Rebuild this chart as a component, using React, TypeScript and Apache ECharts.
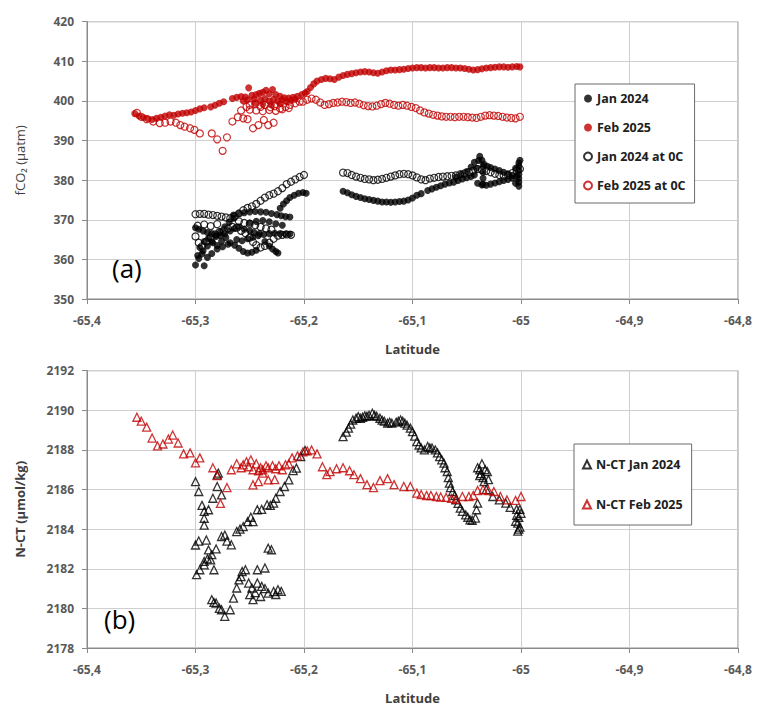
import React, { useEffect, useRef } from "react";
import * as echarts from "echarts";

// ---------- Top panel (a): fCO2 (µatm) vs latitude ----------
const jan2024: number[][] = [
  [-65.300, 358.6], [-65.292, 358.4], [-65.297, 360.2], [-65.294, 361.4], [-65.289, 360.5], [-65.285, 361.5],
  [-65.280, 362.6], [-65.275, 363.2], [-65.270, 363.8],
  [-65.300, 368.0], [-65.297, 367.6], [-65.293, 367.2], [-65.289, 366.8], [-65.285, 366.5], [-65.281, 366.2],
  [-65.277, 366.0], [-65.273, 366.5], [-65.268, 367.2], [-65.264, 367.8], [-65.260, 368.2], [-65.255, 367.6],
  [-65.250, 367.2], [-65.246, 366.8], [-65.241, 366.5], [-65.236, 364.5], [-65.232, 363.4], [-65.229, 362.6],
  [-65.226, 362.0], [-65.224, 361.6],
  [-65.265, 371.2], [-65.260, 371.6], [-65.255, 371.8], [-65.250, 372.0], [-65.245, 372.1], [-65.240, 372.0],
  [-65.235, 371.9], [-65.230, 371.6], [-65.225, 371.3], [-65.221, 371.0], [-65.217, 370.8], [-65.213, 370.7],
  [-65.298, 361.0], [-65.293, 362.2], [-65.289, 363.4], [-65.285, 364.5], [-65.281, 365.8], [-65.277, 367.0],
  [-65.273, 368.2], [-65.269, 369.4], [-65.265, 370.4],
  [-65.222, 372.9], [-65.219, 374.0], [-65.216, 374.8], [-65.213, 375.6], [-65.209, 376.2], [-65.205, 376.7],
  [-65.201, 376.9], [-65.198, 376.7],
  [-65.262, 365.0], [-65.257, 364.7], [-65.252, 365.2], [-65.247, 365.6], [-65.242, 366.0], [-65.237, 366.3],
  [-65.232, 366.5], [-65.227, 366.6], [-65.222, 366.5], [-65.217, 366.4], [-65.213, 366.4],
  [-65.250, 369.2], [-65.244, 369.6], [-65.238, 369.8], [-65.232, 369.5], [-65.226, 369.0], [-65.220, 368.6],
  [-65.296, 363.0], [-65.292, 364.5], [-65.288, 365.3], [-65.284, 364.2], [-65.280, 363.5], [-65.276, 364.6],
  [-65.272, 365.5], [-65.268, 364.2], [-65.264, 363.6], [-65.260, 362.8], [-65.256, 362.0], [-65.252, 361.6],
  [-65.248, 361.8], [-65.244, 362.3],
  [-65.164, 377.2], [-65.160, 376.8], [-65.156, 376.3], [-65.152, 375.9], [-65.148, 375.6], [-65.144, 375.3],
  [-65.140, 375.1], [-65.136, 374.9], [-65.132, 374.7], [-65.128, 374.5], [-65.124, 374.5], [-65.120, 374.4],
  [-65.116, 374.5], [-65.112, 374.6], [-65.108, 374.7], [-65.104, 375.0], [-65.100, 375.5], [-65.096, 376.2],
  [-65.092, 376.6],
  [-65.086, 377.4], [-65.082, 377.8], [-65.078, 378.2], [-65.074, 378.6], [-65.070, 379.0], [-65.066, 379.3],
  [-65.062, 379.5], [-65.058, 379.9], [-65.054, 380.3], [-65.050, 380.6], [-65.046, 380.9], [-65.043, 381.3],
  [-65.041, 383.0], [-65.039, 385.0], [-65.038, 386.0], [-65.036, 385.0], [-65.034, 384.0], [-65.031, 383.5],
  [-65.028, 383.2], [-65.024, 382.8], [-65.020, 382.4], [-65.016, 382.0], [-65.012, 381.6], [-65.008, 381.2],
  [-65.004, 381.0],
  [-65.040, 379.2], [-65.036, 378.8], [-65.032, 378.7], [-65.028, 379.0], [-65.024, 379.3], [-65.020, 379.6],
  [-65.016, 379.9], [-65.012, 380.2], [-65.008, 380.5],
  [-65.060, 380.8], [-65.055, 381.5], [-65.050, 382.2], [-65.046, 383.3], [-65.043, 384.5],
  [-65.002, 378.5], [-65.002, 379.5], [-65.002, 380.5], [-65.002, 381.5], [-65.002, 382.5], [-65.002, 383.5],
  [-65.002, 384.3], [-65.005, 383.0], [-65.005, 379.2], [-65.001, 385.0],
  [-65.035, 379.0], [-65.035, 380.5], [-65.035, 382.0], [-65.035, 383.5],
];

const feb2025: number[][] = [
  [-65.356, 396.8], [-65.352, 396.2], [-65.348, 395.8], [-65.344, 395.5], [-65.340, 395.3], [-65.336, 395.6],
  [-65.332, 395.9], [-65.328, 396.2], [-65.324, 396.5], [-65.320, 396.4], [-65.316, 396.7], [-65.312, 396.9],
  [-65.308, 397.0], [-65.304, 397.2], [-65.300, 397.6], [-65.296, 398.0], [-65.292, 398.3],
  [-65.286, 398.5], [-65.282, 398.9], [-65.278, 399.4], [-65.274, 399.8],
  [-65.266, 400.6], [-65.262, 400.9], [-65.258, 401.1], [-65.254, 401.0], [-65.251, 403.3], [-65.248, 401.4],
  [-65.244, 401.6], [-65.241, 401.9], [-65.238, 402.2], [-65.235, 402.7], [-65.232, 401.8], [-65.229, 402.9],
  [-65.226, 401.6], [-65.222, 401.2], [-65.218, 400.8], [-65.214, 400.7], [-65.210, 400.9], [-65.206, 401.2],
  [-65.202, 401.6], [-65.199, 402.0],
  [-65.256, 400.0], [-65.252, 400.3], [-65.246, 400.5], [-65.240, 400.2], [-65.236, 400.6], [-65.232, 400.0],
  [-65.228, 400.4], [-65.224, 399.9], [-65.220, 400.3], [-65.216, 399.8], [-65.212, 400.1], [-65.208, 400.4],
  [-65.245, 399.5], [-65.238, 399.2], [-65.230, 399.0], [-65.222, 399.3],
  [-65.197, 402.4], [-65.194, 403.4], [-65.191, 404.3], [-65.188, 405.0], [-65.184, 405.4], [-65.180, 405.7],
  [-65.176, 405.6], [-65.172, 405.4], [-65.168, 406.0], [-65.164, 406.4], [-65.160, 406.7], [-65.156, 406.9],
  [-65.152, 407.1], [-65.148, 407.3], [-65.144, 407.4], [-65.140, 407.3], [-65.136, 407.1], [-65.132, 407.0],
  [-65.128, 407.3], [-65.124, 407.6], [-65.120, 407.8], [-65.116, 407.8], [-65.112, 407.9], [-65.108, 408.0],
  [-65.104, 408.2], [-65.100, 408.3], [-65.096, 408.4], [-65.092, 408.4], [-65.088, 408.3], [-65.084, 408.4],
  [-65.080, 408.4], [-65.076, 408.3], [-65.072, 408.3], [-65.068, 408.4], [-65.064, 408.4], [-65.060, 408.3],
  [-65.056, 408.3], [-65.052, 408.2], [-65.048, 408.0], [-65.044, 407.8], [-65.040, 407.9], [-65.036, 408.1],
  [-65.032, 408.3], [-65.028, 408.4], [-65.024, 408.5], [-65.020, 408.6], [-65.016, 408.6], [-65.012, 408.5],
  [-65.008, 408.6], [-65.004, 408.7], [-65.001, 408.6],
];

const jan2024At0C: number[][] = [
  [-65.300, 371.4], [-65.296, 371.5], [-65.292, 371.5], [-65.288, 371.3], [-65.284, 371.2], [-65.280, 371.0],
  [-65.276, 370.8], [-65.272, 370.6], [-65.268, 370.4],
  [-65.264, 370.8], [-65.260, 371.6], [-65.256, 372.4], [-65.252, 373.0], [-65.248, 373.4], [-65.244, 374.0],
  [-65.240, 374.8], [-65.236, 375.6], [-65.232, 376.2], [-65.228, 376.6], [-65.224, 377.2], [-65.220, 378.0],
  [-65.216, 379.0], [-65.212, 379.6], [-65.208, 380.2], [-65.204, 380.8], [-65.200, 381.3],
  [-65.300, 365.8], [-65.297, 364.2], [-65.294, 363.3], [-65.290, 364.5], [-65.286, 365.5], [-65.282, 366.3],
  [-65.278, 366.9], [-65.274, 367.3], [-65.270, 367.8], [-65.266, 368.2], [-65.262, 368.0], [-65.258, 367.2],
  [-65.254, 366.6], [-65.250, 365.5], [-65.247, 364.4], [-65.244, 363.6], [-65.240, 363.0], [-65.236, 363.4],
  [-65.232, 364.2], [-65.228, 365.2], [-65.224, 366.0], [-65.220, 366.2], [-65.216, 366.3], [-65.212, 366.2],
  [-65.298, 368.5], [-65.292, 368.8], [-65.286, 368.4], [-65.280, 368.9], [-65.260, 369.6], [-65.255, 369.2],
  [-65.250, 369.0], [-65.245, 368.6], [-65.240, 368.2], [-65.235, 367.8], [-65.230, 367.5],
  [-65.164, 381.9], [-65.160, 381.8], [-65.156, 381.3], [-65.152, 380.9], [-65.148, 380.6], [-65.144, 380.3],
  [-65.140, 380.2], [-65.136, 380.0], [-65.132, 380.1], [-65.128, 380.3], [-65.124, 380.6], [-65.120, 380.9],
  [-65.116, 381.2], [-65.112, 381.5], [-65.108, 381.6], [-65.104, 381.5], [-65.100, 381.2], [-65.096, 380.7],
  [-65.092, 380.2], [-65.088, 380.0], [-65.084, 380.4], [-65.080, 380.6], [-65.076, 380.8], [-65.072, 380.9],
  [-65.068, 381.0], [-65.064, 381.1], [-65.060, 381.2], [-65.056, 381.5], [-65.052, 381.7], [-65.048, 382.0],
  [-65.044, 382.4], [-65.040, 382.8], [-65.036, 382.6], [-65.032, 382.3], [-65.028, 382.0], [-65.024, 381.6],
  [-65.020, 381.3], [-65.016, 381.1], [-65.012, 381.3], [-65.008, 381.8], [-65.004, 382.4], [-65.001, 382.8],
];

const feb2025At0C: number[][] = [
  [-65.354, 397.0], [-65.350, 396.0], [-65.345, 395.4], [-65.339, 394.8], [-65.333, 394.4], [-65.328, 394.5],
  [-65.323, 394.8], [-65.318, 394.5], [-65.314, 393.9], [-65.310, 393.5], [-65.305, 393.1], [-65.301, 392.7],
  [-65.296, 391.8], [-65.285, 391.8], [-65.280, 390.3], [-65.275, 387.4], [-65.271, 390.8], [-65.266, 394.8],
  [-65.261, 395.9], [-65.256, 395.6], [-65.252, 395.4], [-65.247, 393.1], [-65.242, 393.9], [-65.237, 395.2],
  [-65.233, 393.9], [-65.228, 394.5],
  [-65.253, 398.5], [-65.250, 399.0], [-65.245, 399.2], [-65.240, 398.5], [-65.236, 399.0], [-65.231, 398.4],
  [-65.227, 398.7], [-65.222, 398.1], [-65.217, 398.5], [-65.213, 399.0], [-65.208, 399.4], [-65.204, 399.8],
  [-65.258, 397.6], [-65.250, 397.8], [-65.244, 397.6], [-65.238, 397.4], [-65.232, 397.7], [-65.226, 397.5],
  [-65.220, 397.9], [-65.214, 398.2],
  [-65.201, 399.8], [-65.197, 400.3], [-65.193, 400.6], [-65.189, 400.3], [-65.185, 399.6], [-65.181, 399.0],
  [-65.177, 399.2], [-65.173, 399.5], [-65.169, 399.6], [-65.165, 399.8], [-65.161, 399.7], [-65.157, 399.5],
  [-65.153, 399.6], [-65.149, 399.3], [-65.145, 398.9], [-65.141, 398.7], [-65.137, 398.6], [-65.133, 398.8],
  [-65.129, 399.2], [-65.125, 399.5], [-65.121, 399.3], [-65.117, 399.0], [-65.113, 398.8], [-65.109, 399.0],
  [-65.105, 398.8], [-65.101, 398.5], [-65.097, 398.2], [-65.093, 397.6], [-65.089, 397.1], [-65.085, 396.8],
  [-65.081, 396.5], [-65.077, 396.3], [-65.073, 396.1], [-65.069, 396.0], [-65.065, 396.0], [-65.061, 395.9],
  [-65.057, 396.0], [-65.053, 396.0], [-65.049, 395.9], [-65.045, 395.8], [-65.041, 395.7], [-65.037, 396.0],
  [-65.033, 396.3], [-65.029, 396.4], [-65.025, 396.3], [-65.021, 396.2], [-65.017, 396.0], [-65.013, 395.8],
  [-65.009, 395.7], [-65.005, 395.6], [-65.001, 396.0],
];

// ---------- Bottom panel (b): N-CT (µmol/kg) vs latitude ----------
const nctJan2024: number[][] = [
  [-65.300, 2186.4], [-65.297, 2185.9], [-65.294, 2185.2], [-65.292, 2184.9], [-65.292, 2184.55], [-65.292, 2184.2],
  [-65.300, 2183.2], [-65.297, 2183.4], [-65.290, 2183.45], [-65.299, 2181.7], [-65.296, 2181.95], [-65.292, 2182.2],
  [-65.288, 2182.95], [-65.286, 2182.45], [-65.283, 2181.95], [-65.280, 2186.74], [-65.280, 2186.15],
  [-65.284, 2185.56], [-65.276, 2185.73], [-65.288, 2184.98], [-65.279, 2186.83],
  [-65.292, 2182.37], [-65.289, 2182.5], [-65.285, 2182.71], [-65.281, 2183.0], [-65.276, 2183.63], [-65.273, 2183.7],
  [-65.271, 2183.4], [-65.267, 2183.21], [-65.262, 2183.88], [-65.259, 2184.0], [-65.256, 2184.13], [-65.252, 2184.38],
  [-65.249, 2184.6], [-65.247, 2184.38], [-65.243, 2184.98], [-65.239, 2185.0], [-65.234, 2185.23], [-65.231, 2185.2],
  [-65.228, 2185.31], [-65.226, 2185.56], [-65.222, 2185.9], [-65.218, 2186.15], [-65.214, 2186.49], [-65.210, 2186.96],
  [-65.207, 2187.08], [-65.203, 2187.66], [-65.199, 2187.97],
  [-65.285, 2180.44], [-65.283, 2180.3], [-65.281, 2180.27], [-65.278, 2180.0], [-65.276, 2179.93], [-65.273, 2179.6],
  [-65.268, 2179.93], [-65.265, 2180.52], [-65.262, 2181.03], [-65.260, 2181.44], [-65.258, 2181.6], [-65.257, 2181.86],
  [-65.254, 2181.95], [-65.251, 2181.28], [-65.248, 2181.03], [-65.247, 2180.44], [-65.245, 2180.8], [-65.243, 2181.28],
  [-65.243, 2181.95], [-65.240, 2180.6], [-65.239, 2181.11], [-65.236, 2182.04], [-65.236, 2181.0], [-65.233, 2180.77],
  [-65.228, 2180.85], [-65.226, 2180.7], [-65.224, 2180.94], [-65.221, 2180.86], [-65.233, 2183.04], [-65.230, 2182.96],
  [-65.250, 2180.69],
  [-65.164, 2188.67], [-65.161, 2188.9], [-65.159, 2189.1], [-65.157, 2189.3], [-65.155, 2189.51], [-65.152, 2189.6],
  [-65.150, 2189.68], [-65.148, 2189.6], [-65.146, 2189.65], [-65.144, 2189.72], [-65.142, 2189.7], [-65.140, 2189.75],
  [-65.137, 2189.85], [-65.135, 2189.75], [-65.133, 2189.7], [-65.130, 2189.6], [-65.128, 2189.5], [-65.126, 2189.45],
  [-65.123, 2189.35], [-65.121, 2189.4], [-65.119, 2189.35], [-65.115, 2189.4], [-65.113, 2189.45], [-65.111, 2189.51],
  [-65.109, 2189.45], [-65.107, 2189.35], [-65.105, 2189.25], [-65.102, 2189.1], [-65.100, 2188.92], [-65.098, 2188.7],
  [-65.096, 2188.42], [-65.094, 2188.25], [-65.092, 2188.1], [-65.089, 2188.0], [-65.086, 2188.17], [-65.084, 2188.1],
  [-65.082, 2188.1], [-65.079, 2188.0], [-65.077, 2187.85], [-65.075, 2187.66], [-65.073, 2187.5], [-65.071, 2187.33],
  [-65.070, 2187.1], [-65.068, 2186.91], [-65.067, 2186.6], [-65.066, 2186.32], [-65.065, 2186.1], [-65.063, 2185.9],
  [-65.061, 2185.7], [-65.060, 2185.48], [-65.058, 2185.3], [-65.056, 2185.06], [-65.054, 2184.9], [-65.051, 2184.72],
  [-65.049, 2184.6], [-65.047, 2184.47], [-65.045, 2184.45], [-65.042, 2184.56], [-65.041, 2184.98], [-65.040, 2185.31],
  [-65.040, 2187.1], [-65.038, 2187.0], [-65.037, 2186.8], [-65.035, 2186.6], [-65.038, 2186.7], [-65.033, 2187.0],
  [-65.031, 2186.9], [-65.030, 2186.5], [-65.036, 2187.3], [-65.034, 2186.4],
  [-65.032, 2186.0], [-65.026, 2185.65], [-65.020, 2185.48], [-65.014, 2185.31], [-65.010, 2185.1], [-65.004, 2185.0],
  [-65.002, 2184.6], [-65.003, 2184.3], [-65.001, 2184.1], [-65.005, 2184.4], [-65.003, 2183.9], [-65.000, 2184.8],
  [-65.004, 2184.7], [-65.001, 2185.0], [-65.002, 2184.0],
];

const nctFeb2025: number[][] = [
  [-65.354, 2189.65], [-65.350, 2189.45], [-65.345, 2189.15], [-65.340, 2188.6], [-65.335, 2188.2], [-65.330, 2188.3],
  [-65.325, 2188.55], [-65.321, 2188.75], [-65.316, 2188.35], [-65.311, 2187.8], [-65.305, 2187.85], [-65.300, 2187.35],
  [-65.296, 2187.6], [-65.284, 2187.1], [-65.280, 2186.7], [-65.277, 2185.3], [-65.271, 2186.1],
  [-65.267, 2187.0], [-65.262, 2187.3], [-65.258, 2187.1], [-65.253, 2187.4], [-65.249, 2187.5], [-65.244, 2187.3],
  [-65.240, 2187.1], [-65.235, 2187.2], [-65.229, 2187.2], [-65.223, 2187.2], [-65.217, 2187.25], [-65.211, 2187.6],
  [-65.201, 2187.9], [-65.193, 2188.0], [-65.188, 2187.8], [-65.183, 2187.15], [-65.179, 2186.75],
  [-65.256, 2187.25], [-65.251, 2187.15], [-65.247, 2187.0], [-65.242, 2186.95], [-65.238, 2187.0], [-65.233, 2187.1],
  [-65.226, 2187.05], [-65.220, 2187.0], [-65.214, 2187.3], [-65.206, 2187.7], [-65.197, 2187.95],
  [-65.247, 2186.24], [-65.242, 2186.4], [-65.238, 2186.83], [-65.233, 2186.49], [-65.227, 2186.5],
  [-65.176, 2186.9], [-65.170, 2187.05], [-65.164, 2187.1], [-65.158, 2186.95], [-65.154, 2186.75], [-65.148, 2186.55],
  [-65.142, 2186.25], [-65.136, 2186.1], [-65.130, 2186.45], [-65.123, 2186.55], [-65.117, 2186.25], [-65.108, 2186.15],
  [-65.102, 2186.15], [-65.096, 2185.82], [-65.092, 2185.75], [-65.087, 2185.7], [-65.083, 2185.7], [-65.078, 2185.65],
  [-65.074, 2185.62], [-65.069, 2185.6], [-65.064, 2185.55], [-65.060, 2185.5], [-65.054, 2185.65], [-65.048, 2185.65],
  [-65.044, 2185.7], [-65.040, 2185.95], [-65.035, 2186.0], [-65.030, 2185.95], [-65.025, 2185.9], [-65.019, 2185.65],
  [-65.013, 2185.48], [-65.005, 2185.45], [-65.000, 2185.65],
];

const latTicks = { min: -65.4, max: -64.8, interval: 0.1 };
const fco2Ticks = { min: 350, max: 420, interval: 10 };
const nctTicks = { min: 2178, max: 2192, interval: 2 };

const RED = "#c00000";
const FONT = "'Open Sans', 'Noto Sans', sans-serif";
const LABEL_COLOR = "#595959";
const GRID_COLOR = "#cfcfcf";
const AXIS_COLOR = "#8a8a8a";

function latFmt(v: number) {
  const r = Math.round(v * 10) / 10;
  return String(r).replace(".", ",");
}

function plainFmt(v: number) {
  return String(Math.round(v));
}

export default function App() {
  const ref = useRef<HTMLDivElement>(null);
  useEffect(() => {
    if (!ref.current) return;
    const chart = echarts.init(ref.current, null, { renderer: "svg" });

    const xAxisBase = (gridIndex: number) => ({
      type: "value",
      gridIndex,
      min: latTicks.min,
      max: latTicks.max,
      interval: latTicks.interval,
      name: "Latitude",
      nameLocation: "middle",
      nameGap: 43,
      nameTextStyle: { fontFamily: FONT, fontWeight: "bold", fontSize: 13, color: "#404040" },
      axisLine: { show: true, onZero: false, lineStyle: { color: AXIS_COLOR, width: 1 } },
      axisTick: { show: true, inside: false, length: 5, lineStyle: { color: AXIS_COLOR } },
      axisLabel: {
        margin: 15,
        fontFamily: FONT,
        fontWeight: "bold",
        fontSize: 12,
        color: LABEL_COLOR,
        formatter: latFmt,
      },
      splitLine: { show: true, lineStyle: { color: GRID_COLOR, width: 1 } },
    });

    const yAxisBase = (gridIndex: number, t: any, name: string, bold: boolean) => ({
      type: "value",
      gridIndex,
      min: t.min,
      max: t.max,
      interval: t.interval,
      name,
      nameLocation: "middle",
      nameGap: 61,
      nameRotate: 90,
      nameTextStyle: { fontFamily: FONT, fontWeight: bold ? "bold" : "normal", fontSize: 13, color: "#404040" },
      axisLine: { show: true, lineStyle: { color: AXIS_COLOR, width: 1 } },
      axisTick: { show: true, inside: false, length: 5, lineStyle: { color: AXIS_COLOR } },
      axisLabel: { margin: 13, fontFamily: FONT, fontWeight: "bold", fontSize: 12, color: LABEL_COLOR, formatter: plainFmt },
      splitLine: { show: true, lineStyle: { color: GRID_COLOR, width: 1 } },
    });

    const legendCommon = {
      orient: "vertical",
      backgroundColor: "#ffffff",
      borderColor: "#6b6b6b",
      borderWidth: 1,
      itemWidth: 8,
      itemHeight: 8,
      itemGap: 16,
      textStyle: { fontFamily: FONT, fontWeight: "bold", fontSize: 12.5, color: "#202020" },
    };

    const option: any = {
      animation: false,
      backgroundColor: "#ffffff",
      grid: [
        { left: 87, top: 21.7, width: 651, height: 277.3, show: true, borderColor: AXIS_COLOR, borderWidth: 1, backgroundColor: "transparent" },
        { left: 87, top: 370.7, width: 651, height: 277.6, show: true, borderColor: AXIS_COLOR, borderWidth: 1, backgroundColor: "transparent" },
      ],
      xAxis: [xAxisBase(0), xAxisBase(1)],
      yAxis: [
        yAxisBase(0, fco2Ticks, "fCO₂ (µatm)", false),
        yAxisBase(1, nctTicks, "N-CT (µmol/kg)", true),
      ],
      legend: [
        {
          ...legendCommon,
          data: ["Jan 2024", "Feb 2025", "Jan 2024 at 0C", "Feb 2025 at 0C"],
          left: 575,
          top: 84,
          padding: [8, 9, 11, 8],
        },
        {
          ...legendCommon,
          data: ["N-CT Jan 2024", "N-CT Feb 2025"],
          left: 574,
          top: 444,
          itemGap: 27,
          padding: [14, 9, 14, 8],
        },
      ],
      graphic: [
        { type: "text", left: 112, top: 255, style: { text: "(a)", fontFamily: FONT, fontSize: 26, fill: "#000" } },
        { type: "text", left: 104, top: 606, style: { text: "(b)", fontFamily: FONT, fontSize: 26, fill: "#000" } },
      ],
      series: [
        {
          name: "Jan 2024", type: "scatter", xAxisIndex: 0, yAxisIndex: 0, data: jan2024,
          symbol: "circle", symbolSize: 7, itemStyle: { color: "#000000" },
        },
        {
          name: "Feb 2025", type: "scatter", xAxisIndex: 0, yAxisIndex: 0, data: feb2025,
          symbol: "circle", symbolSize: 7, itemStyle: { color: RED },
        },
        {
          name: "Jan 2024 at 0C", type: "scatter", xAxisIndex: 0, yAxisIndex: 0, data: jan2024At0C,
          symbol: "circle", symbolSize: 7,
          itemStyle: { color: "rgba(255,255,255,0)", borderColor: "#000000", borderWidth: 1.2 },
        },
        {
          name: "Feb 2025 at 0C", type: "scatter", xAxisIndex: 0, yAxisIndex: 0, data: feb2025At0C,
          symbol: "circle", symbolSize: 7,
          itemStyle: { color: "rgba(255,255,255,0)", borderColor: RED, borderWidth: 1.2 },
        },
        {
          name: "N-CT Jan 2024", type: "scatter", xAxisIndex: 1, yAxisIndex: 1, data: nctJan2024,
          symbol: "triangle", symbolSize: 8,
          itemStyle: { color: "rgba(255,255,255,0)", borderColor: "#000000", borderWidth: 1.3 },
        },
        {
          name: "N-CT Feb 2025", type: "scatter", xAxisIndex: 1, yAxisIndex: 1, data: nctFeb2025,
          symbol: "triangle", symbolSize: 8,
          itemStyle: { color: "rgba(255,255,255,0)", borderColor: RED, borderWidth: 1.3 },
        },
      ],
    };

    chart.setOption(option);
    return () => chart.dispose();
  }, []);

  return (
    <div
      ref={ref}
      style={{ position: "fixed", left: 0, top: 0, width: 757, height: 705, background: "#fff" }}
    />
  );
}
